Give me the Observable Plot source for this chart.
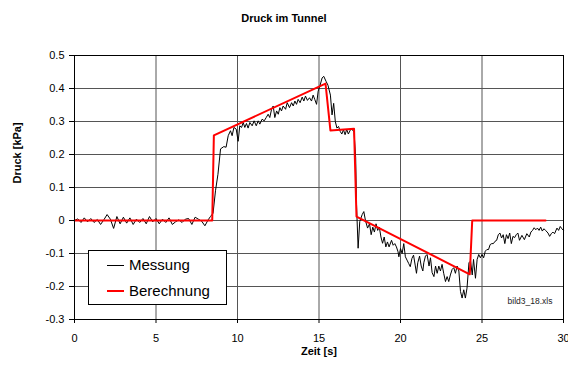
<!DOCTYPE html>
<html><head><meta charset="utf-8">
<script src="https://cdn.jsdelivr.net/npm/d3@7"></script>
<script src="https://cdn.jsdelivr.net/npm/@observablehq/plot@0.6"></script>
<style>
body{margin:0;background:#fff;font-family:"Liberation Sans",Arial,sans-serif;}
#chart{position:relative;width:568px;height:367px;background:#fff;}
#chart svg{position:absolute;left:0;top:0;}
#title{position:absolute;left:0;top:11px;width:568px;text-align:center;font-weight:bold;font-size:11px;line-height:14px;color:#000;}
#legend{position:absolute;left:88px;top:250px;width:137px;height:53px;border:1px solid #000;background:#fff;}
.sw{position:absolute;left:18px;width:17px;}
.lt{position:absolute;left:40px;font-size:15px;line-height:18px;color:#000;}
</style></head>
<body>
<div id="chart"></div>
<script>
const titleText = "Druck im Tunnel";
const xLabel = "Zeit [s]";
const yLabel = "Druck [kPa]";
const fileNote = "bild3_18.xls";
const seriesNames = ["Messung", "Berechnung"];
const xTicks = [0, 5, 10, 15, 20, 25, 30];
const yTicks = [-0.3, -0.2, -0.1, 0, 0.1, 0.2, 0.3, 0.4, 0.5];

const messungZeit = [
0.0,0.2,0.4,0.6,0.8,1.0,1.2,1.4,1.6,1.8,2.0,2.2,2.4,2.6,2.8,3.0,3.2,3.4,3.6,3.8,
4.0,4.2,4.4,4.6,4.8,5.0,5.2,5.4,5.6,5.8,6.0,6.2,6.4,6.6,6.8,7.0,7.2,7.4,7.6,7.8,
8.0,8.2,8.34,8.5,8.65,8.8,8.96,9.16,9.3,9.43,9.57,9.67,9.78,9.92,10.04,10.14,10.25,10.35,10.45,10.55,
10.65,10.76,10.9,11.02,11.15,11.27,11.37,11.51,11.64,11.76,11.88,11.98,12.09,12.19,12.29,12.4,12.5,12.6,12.7,12.8,
12.95,13.05,13.19,13.32,13.42,13.52,13.62,13.72,13.84,13.97,14.07,14.17,14.29,14.42,14.54,14.64,14.74,14.85,14.95,15.05,
15.19,15.29,15.43,15.55,15.7,15.8,15.9,16.0,16.1,16.2,16.3,16.4,16.5,16.6,16.7,16.8,16.95,17.05,17.15,17.25,
17.3,17.4,17.5,17.65,17.75,17.85,17.98,18.1,18.2,18.3,18.4,18.5,18.6,18.7,18.8,18.9,19.0,19.1,19.2,19.3,
19.45,19.55,19.65,19.75,19.85,19.9,20.0,20.1,20.2,20.3,20.4,20.5,20.6,20.7,20.8,20.9,20.98,21.06,21.17,21.27,
21.37,21.43,21.53,21.63,21.75,21.84,21.94,22.05,22.15,22.25,22.35,22.45,22.55,22.65,22.76,22.86,22.96,23.06,23.17,23.27,
23.37,23.47,23.58,23.68,23.78,23.88,23.98,24.08,24.2,24.3,24.4,24.48,24.6,24.7,24.8,24.9,25.0,25.1,25.2,25.3,
25.4,25.5,25.6,25.7,25.8,25.9,26.0,26.1,26.2,26.3,26.4,26.5,26.6,26.7,26.8,26.9,27.0,27.1,27.2,27.3,
27.45,27.6,27.75,27.9,28.0,28.1,28.2,28.3,28.4,28.5,28.6,28.7,28.8,28.9,29.05,29.15,29.25,29.35,29.45,29.6,
29.7,29.8,29.9,30.0];
const messungDruck = [
0.000,0.005,-0.006,0.008,-0.004,0.006,-0.006,0.003,-0.012,0.002,0.018,0.004,-0.024,0.012,-0.010,0.010,-0.008,0.008,-0.012,0.004,
-0.006,0.006,-0.010,0.012,-0.004,0.006,-0.010,0.004,-0.006,0.008,-0.012,-0.004,0.002,-0.006,0.004,0.006,-0.012,0.010,0.004,-0.002,
-0.016,0.002,0.012,0.022,0.090,0.140,0.217,0.224,0.222,0.257,0.272,0.257,0.282,0.277,0.240,0.287,0.282,0.297,0.282,0.294,
0.280,0.297,0.287,0.302,0.287,0.302,0.292,0.307,0.302,0.312,0.322,0.312,0.337,0.347,0.312,0.332,0.322,0.342,0.332,0.347,
0.337,0.357,0.342,0.357,0.347,0.362,0.352,0.367,0.357,0.374,0.362,0.377,0.364,0.372,0.362,0.380,0.367,0.352,0.392,0.407,
0.432,0.437,0.422,0.410,0.380,0.320,0.355,0.300,0.280,0.285,0.270,0.262,0.275,0.260,0.276,0.262,0.277,0.275,0.268,0.190,
0.050,-0.084,-0.003,0.018,0.027,0.000,-0.023,-0.010,-0.043,-0.020,-0.035,-0.010,-0.030,-0.020,-0.050,-0.069,-0.050,-0.080,-0.065,-0.080,
-0.060,-0.075,-0.070,-0.080,-0.095,-0.110,-0.085,-0.100,-0.070,-0.110,-0.120,-0.130,-0.140,-0.115,-0.105,-0.135,-0.160,-0.128,-0.108,-0.138,
-0.153,-0.128,-0.108,-0.103,-0.138,-0.113,-0.158,-0.170,-0.138,-0.160,-0.138,-0.153,-0.133,-0.160,-0.185,-0.170,-0.185,-0.165,-0.148,-0.143,
-0.160,-0.138,-0.153,-0.215,-0.235,-0.210,-0.235,-0.205,-0.128,-0.123,-0.165,-0.118,-0.175,-0.118,-0.103,-0.113,-0.103,-0.113,-0.093,-0.088,
-0.088,-0.073,-0.070,-0.070,-0.063,-0.060,-0.043,-0.038,-0.053,-0.043,-0.070,-0.043,-0.055,-0.038,-0.070,-0.048,-0.052,-0.043,-0.038,-0.060,
-0.045,-0.058,-0.040,-0.050,-0.035,-0.030,-0.022,-0.028,-0.023,-0.030,-0.020,-0.032,-0.025,-0.030,-0.038,-0.048,-0.040,-0.035,-0.040,-0.023,
-0.030,-0.018,-0.025,-0.030];

const berechnungZeit = [0, 8.45, 8.55, 15.4, 15.7, 17.15, 17.3, 24.25, 24.4, 28.9];
const berechnungDruck = [0, 0, 0.258, 0.415, 0.273, 0.278, 0.012, -0.163, 0, 0];

const messung = messungZeit.map((t, i) => ({t, p: messungDruck[i]}));
const berechnung = berechnungZeit.map((t, i) => ({t, p: berechnungDruck[i]}));

const fmt = d => Math.abs(d) < 1e-9 ? "0" : d.toFixed(1);

const plot = Plot.plot({
  width: 568,
  height: 367,
  marginLeft: 74,
  marginRight: 5,
  marginTop: 55,
  marginBottom: 48,
  style: {fontFamily: "'Liberation Sans', Arial, sans-serif", fontSize: "11px", color: "#000", background: "#fff"},
  x: {domain: [0, 30]},
  y: {domain: [-0.3, 0.5]},
  marks: [
    Plot.gridY(yTicks, {stroke: "#555", strokeOpacity: 1}),
    Plot.gridX(xTicks, {stroke: "#555", strokeOpacity: 1}),
    Plot.line(messung, {x: "t", y: "p", stroke: "#000", strokeWidth: 1}),
    Plot.line(berechnung, {x: "t", y: "p", stroke: "#ff0000", strokeWidth: 2}),
    Plot.frame({stroke: "#000"}),
    Plot.axisY({ticks: yTicks, tickFormat: fmt, tickSize: 5, tickPadding: 5, label: null}),
    Plot.axisX({ticks: xTicks, tickSize: 4, tickPadding: 11, label: null}),
    Plot.text([xLabel], {text: d => d, frameAnchor: "bottom", dy: 35, fontWeight: "bold", fontSize: 11}),
    Plot.text([yLabel], {text: d => d, frameAnchor: "left", rotate: -90, dx: -57, dy: -4, fontWeight: "bold", fontSize: 11}),
    Plot.text([fileNote], {text: d => d, frameAnchor: "bottom-right", textAnchor: "end", dx: -11, dy: -16, fontSize: 8.5, fill: "#222"})
  ]
});

const chart = document.getElementById("chart");
chart.appendChild(plot);

const title = document.createElement("div");
title.id = "title";
title.textContent = titleText;
chart.appendChild(title);

const legend = document.createElement("div");
legend.id = "legend";
const rows = [{name: seriesNames[0], color: "#000", w: 1, y: 14}, {name: seriesNames[1], color: "#ff0000", w: 2, y: 40}];
rows.forEach(r => {
  const sw = document.createElement("div");
  sw.className = "sw";
  sw.style.top = (r.y - r.w / 2) + "px";
  sw.style.height = r.w + "px";
  sw.style.background = r.color;
  legend.appendChild(sw);
  const lt = document.createElement("div");
  lt.className = "lt";
  lt.style.top = (r.y - 9) + "px";
  lt.textContent = r.name;
  legend.appendChild(lt);
});
chart.appendChild(legend);
</script>
</body></html>
